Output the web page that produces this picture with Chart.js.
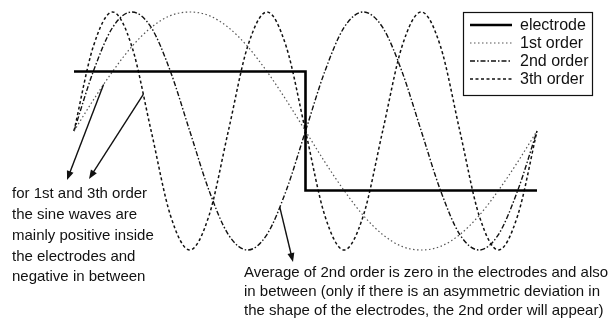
<!DOCTYPE html>
<html>
<head>
<meta charset="utf-8">
<script src="https://cdn.jsdelivr.net/npm/chart.js@4.4.1/dist/chart.umd.min.js"></script>
<style>
  html, body { margin: 0; padding: 0; background: #fff; }
  #wrap { width: 616px; height: 327px; }
</style>
</head>
<body>
<div id="wrap"><canvas id="orders" width="616" height="327"></canvas></div>
<script>
// phase along one electrode period (degrees)
const phase = [-90, -75, -60, -45, -30, -15, 0, 15, 30, 45, 60, 75, 90,
               105, 120, 135, 150, 165, 180, 195, 210, 225, 240, 255, 270];

// sine wave amplitudes (relative), read at each phase
const firstOrder  = [0, 0.26, 0.5, 0.71, 0.87, 0.97, 1, 0.97, 0.87, 0.71, 0.5, 0.26, 0,
                     -0.26, -0.5, -0.71, -0.87, -0.97, -1, -0.97, -0.87, -0.71, -0.5, -0.26, 0];
const secondOrder = [0, 0.5, 0.87, 1, 0.87, 0.5, 0, -0.5, -0.87, -1, -0.87, -0.5, 0,
                     0.5, 0.87, 1, 0.87, 0.5, 0, -0.5, -0.87, -1, -0.87, -0.5, 0];
const thirdOrder  = [0, 0.71, 1, 0.71, 0, -0.71, -1, -0.71, 0, 0.71, 1, 0.71, 0,
                     -0.71, -1, -0.71, 0, 0.71, 1, 0.71, 0, -0.71, -1, -0.71, 0];

// electrode profile: high inside the electrode, low in between
const electrodeX = [-90, 90, 90, 270];
const electrodeY = [0.5, 0.5, -0.5, -0.5];

const seriesLabels = ['electrode', '1st order', '2nd order', '3th order'];

const leftNote = ['for 1st and 3th order', 'the sine waves are', 'mainly positive inside',
                  'the electrodes and', 'negative in between'];
const bottomNote = ['Average of 2nd order is zero in the electrodes and also',
                    'in between (only if there is an asymmetric deviation in',
                    'the shape of the electrodes, the 2nd order will appear)'];

const FONT = '"Liberation Sans", Arial, Helvetica, sans-serif';

function pts(xs, ys) {
    return xs.map((x, i) => ({ x: x, y: ys[i] }));
}

const styles = [
    { color: '#000', width: 2.6, dash: [] },
    { color: '#555', width: 1.2, dash: [1.5, 2.5] },
    { color: '#111', width: 1.4, dash: [5, 2, 1.5, 2] },
    { color: '#111', width: 1.5, dash: [3, 2.5] }
];

function arrow(ctx, x1, y1, x2, y2) {
    const a = Math.atan2(y2 - y1, x2 - x1);
    const len = 9, half = 3.5;
    ctx.beginPath();
    ctx.moveTo(x1, y1);
    ctx.lineTo(x2 - Math.cos(a) * len * 0.8, y2 - Math.sin(a) * len * 0.8);
    ctx.stroke();
    ctx.beginPath();
    ctx.moveTo(x2, y2);
    ctx.lineTo(x2 - Math.cos(a) * len - Math.sin(a) * half, y2 - Math.sin(a) * len + Math.cos(a) * half);
    ctx.lineTo(x2 - Math.cos(a) * len + Math.sin(a) * half, y2 - Math.sin(a) * len - Math.cos(a) * half);
    ctx.closePath();
    ctx.fill();
}

// legend box, arrows and the notes
const notesPlugin = {
    id: 'notes',
    afterDraw(chart) {
        const ctx = chart.ctx;
        const xs = chart.scales.x, ys = chart.scales.y;
        ctx.save();

        // legend
        ctx.strokeStyle = '#111';
        ctx.lineWidth = 1.2;
        ctx.setLineDash([]);
        ctx.strokeRect(463.5, 12.5, 129, 83);
        ctx.font = '16px ' + FONT;
        ctx.textBaseline = 'middle';
        ctx.fillStyle = '#111';
        seriesLabels.forEach((lab, i) => {
            const y = 25 + i * 18;
            const s = styles[i];
            ctx.strokeStyle = s.color;
            ctx.lineWidth = s.width;
            ctx.setLineDash(s.dash);
            ctx.beginPath();
            ctx.moveTo(470, y);
            ctx.lineTo(512, y);
            ctx.stroke();
            ctx.fillText(lab, 520, y + 1);
        });

        // arrows from the curves down to the notes
        ctx.setLineDash([]);
        ctx.strokeStyle = '#111';
        ctx.fillStyle = '#111';
        ctx.lineWidth = 1.4;
        arrow(ctx, xs.getPixelForValue(-67), ys.getPixelForValue(0.39), 67, 180);
        arrow(ctx, xs.getPixelForValue(-36), ys.getPixelForValue(0.31), 89, 179);
        arrow(ctx, xs.getPixelForValue(70), ys.getPixelForValue(-0.64), 293, 262);

        // notes
        ctx.font = '15px ' + FONT;
        ctx.textBaseline = 'middle';
        leftNote.forEach((t, i) => ctx.fillText(t, 12, 194 + i * 20.8));
        bottomNote.forEach((t, i) => ctx.fillText(t, 244, 273 + i * 19));

        ctx.restore();
    }
};

const orderSets = [firstOrder, secondOrder, thirdOrder];

new Chart(document.getElementById('orders'), {
    type: 'line',
    data: {
        datasets: [
            {
                label: seriesLabels[0],
                data: pts(electrodeX, electrodeY),
                borderColor: styles[0].color,
                borderWidth: styles[0].width,
                borderDash: styles[0].dash,
                pointRadius: 0,
                tension: 0,
                clip: false
            }
        ].concat(orderSets.map((vals, k) => ({
            label: seriesLabels[k + 1],
            data: pts(phase, vals),
            borderColor: styles[k + 1].color,
            borderWidth: styles[k + 1].width,
            borderDash: styles[k + 1].dash,
            pointRadius: 0,
            cubicInterpolationMode: 'monotone',
            clip: false
        })))
    },
    options: {
        responsive: false,
        animation: false,
        layout: { padding: { left: 74, right: 79, top: 12, bottom: 77 } },
        scales: {
            x: { type: 'linear', min: -90, max: 270, display: false },
            y: { min: -1, max: 1, display: false }
        },
        plugins: {
            legend: { display: false },
            tooltip: { enabled: false }
        }
    },
    plugins: [notesPlugin]
});
</script>
</body>
</html>
